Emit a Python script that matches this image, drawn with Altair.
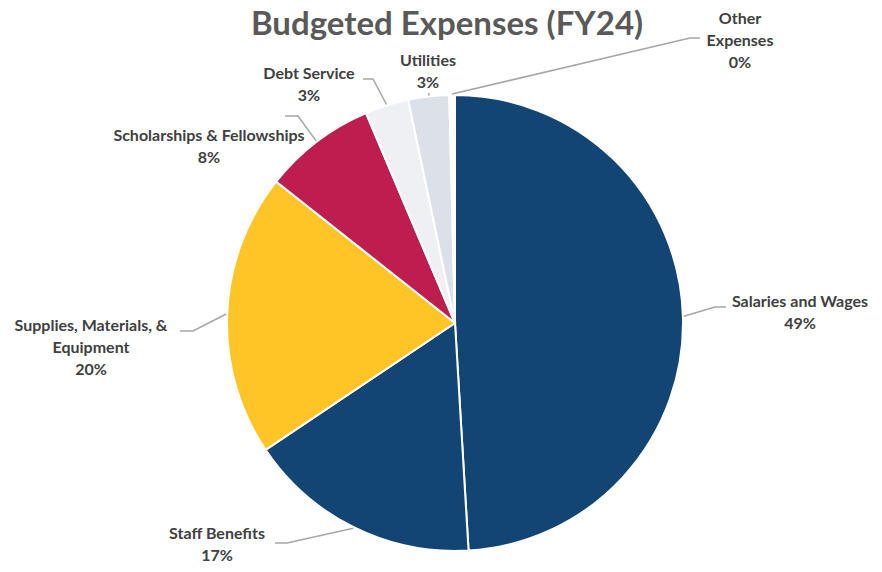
import math
import altair as alt
import pandas as pd

# ---- data ----
categories = ["Salaries and Wages", "Staff Benefits", "Supplies, Materials, & Equipment",
              "Scholarships & Fellowships", "Debt Service", "Utilities", "Other Expenses"]
values = [49.2, 16.6, 20.1, 8.0, 3.1, 2.9, 0.4]
label_lines = [["Salaries and Wages"], ["Staff Benefits"], ["Supplies, Materials, &", "Equipment"],
               ["Scholarships & Fellowships"], ["Debt Service"], ["Utilities"], ["Other", "Expenses"]]
colors = ["#124573", "#124573", "#FFC425", "#BE1E4F", "#EEF0F3", "#DCE1E9", "#FFFFFF"]

# ---- label layout (page pixel coordinates; y = centre of first text line) ----
label_pos = [(800, 302), (217, 534), (91, 326), (209, 136), (309, 74), (428, 61), (740, 19)]
leader_elbow = [(715, 307), (287, 543), (193, 331), (298, 116), (373, 79), (429, 94), (690, 38)]
leader_end = [(726, 307), (275, 543), (180, 331), (285, 116), (363, 79), (429, 93), (700, 38)]

CX, CY, R = 455, 323, 228
W, H = 866, 556
PAD_TOP = 8

total = sum(values)
pie_rows, text_rows, line_rows = [], [], []
cum = 0.0
for i, (c, v) in enumerate(zip(categories, values)):
    mid = (cum + v / 2) / total * 2 * math.pi
    cum += v
    pct = f"{round(v / total * 100)}%"
    pie_rows.append({"category": c, "value": v, "idx": i})
    text_rows.append({"category": c, "label": "\n".join(label_lines[i] + [pct]),
                      "lx": label_pos[i][0], "ly": label_pos[i][1]})
    sx, sy = CX + (R + 1) * math.sin(mid), CY - (R + 1) * math.cos(mid)
    for j, (px, py) in enumerate([(sx, sy), leader_elbow[i], leader_end[i]]):
        line_rows.append({"category": c, "seq": j, "px": px, "py": py})

pie_df = pd.DataFrame(pie_rows)
text_df = pd.DataFrame(text_rows)
line_df = pd.DataFrame(line_rows)
title_df = pd.DataFrame([{"t": "Budgeted Expenses (FY24)", "tx": 447, "ty": 35}])

xs = alt.Scale(domain=[8, 8 + W])
ys = alt.Scale(domain=[8 + PAD_TOP, 8 + H], reverse=True)

pie = alt.Chart(pie_df).mark_arc(radius=R, stroke="white", strokeWidth=2).encode(
    theta=alt.Theta("value:Q", stack=True),
    color=alt.Color("category:N", scale=alt.Scale(domain=categories, range=colors), legend=None),
    order=alt.Order("idx:Q"),
    x=alt.value(CX - 8),
    y=alt.value(CY - 8 - PAD_TOP),
)

leaders = alt.Chart(line_df).mark_line(color="#A6A6A6", strokeWidth=1.5).encode(
    x=alt.X("px:Q", scale=xs, axis=None),
    y=alt.Y("py:Q", scale=ys, axis=None),
    detail="category:N",
    order="seq:Q",
)

labels = alt.Chart(text_df).mark_text(
    font="Lato", fontWeight="bold", fontSize=16, color="#404040",
    lineBreak="\n", lineHeight=22, align="center", baseline="middle",
).encode(
    x=alt.X("lx:Q", scale=xs, axis=None),
    y=alt.Y("ly:Q", scale=ys, axis=None),
    text="label:N",
)

title = alt.Chart(title_df).mark_text(
    font="Lato", fontWeight="bold", fontSize=33, color="#595959",
    align="center", baseline="alphabetic",
).encode(
    x=alt.X("tx:Q", scale=xs, axis=None),
    y=alt.Y("ty:Q", scale=ys, axis=None),
    text="t:N",
)

chart = alt.layer(pie, leaders, labels, title).properties(
    width=W, height=H - PAD_TOP,
    padding={"left": 0, "top": PAD_TOP, "right": 0, "bottom": 0},
    autosize=alt.AutoSizeParams(type="none"),
    background="white",
).configure_view(stroke=None)

chart.save("out.html", embed_options={"renderer": "svg", "actions": False})
